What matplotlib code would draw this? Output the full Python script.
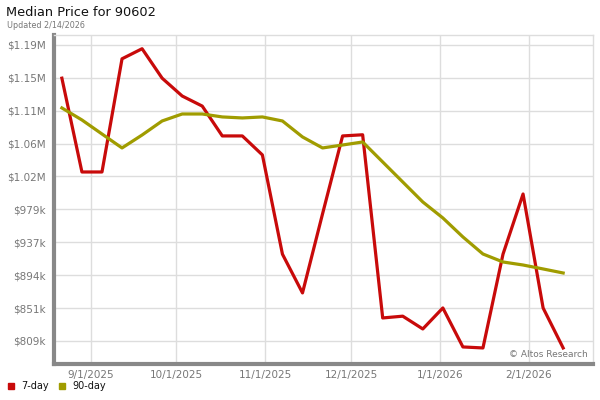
import matplotlib
matplotlib.use("Agg")
import matplotlib.pyplot as plt
import pandas as pd

# weekly dates, 8/22/2025 .. 2/13/2026
dates = pd.date_range("2025-08-22", periods=26, freq="7D")

price_7day = [1148000, 1027000, 1027000, 1173000, 1186000, 1148000, 1125000, 1112000,
              1073500, 1073500, 1049000, 921000, 871000, 973000, 1073500, 1075000,
              838700, 841000, 824500, 851600, 801300, 800000, 921000, 998600,
              851600, 800000]
price_90day = [1109600, 1094100, 1076000, 1058000, 1074700, 1092800, 1101800, 1101800,
               1098000, 1096700, 1098000, 1092800, 1072200, 1058000, 1061800, 1065700,
               1039900, 1014100, 988300, 967700, 943200, 921200, 910900, 907000,
               901900, 896700]

ytick_vals = [809000 + 42450 * i for i in range(10)]
ytick_labels = ["$809k", "$851k", "$894k", "$937k", "$979k",
                "$1.02M", "$1.06M", "$1.11M", "$1.15M", "$1.19M"]
xtick_dates = pd.to_datetime(["2025-09-01", "2025-10-01", "2025-11-01",
                              "2025-12-01", "2026-01-01", "2026-02-01"])
xtick_labels = ["9/1/2025", "10/1/2025", "11/1/2025", "12/1/2025", "1/1/2026", "2/1/2026"]

red = "#c80a0a"
olive = "#a09c00"

fig = plt.figure(figsize=(6, 4), dpi=100)
ax = fig.add_axes([54 / 600, 1 - 364 / 400, 539 / 600, 329 / 400])

ax.plot(dates, price_7day, color=red, lw=2.3)
ax.plot(dates, price_90day, color=olive, lw=2.3)

ax.set_xlim(pd.Timestamp("2025-08-19 06:00"), pd.Timestamp("2026-02-23 10:00"))
ax.set_ylim(779300, 1203700)

ax.set_yticks(ytick_vals)
ax.set_yticklabels(ytick_labels)
ax.set_xticks(xtick_dates)
ax.set_xticklabels(xtick_labels)

ax.grid(True, color="#dddddd", lw=1)
ax.set_axisbelow(True)
ax.tick_params(labelsize=7.5, length=0)
ax.tick_params(axis="x", pad=4)
ax.tick_params(axis="y", pad=6)
for lab in ax.get_xticklabels() + ax.get_yticklabels():
    lab.set_color("#777777")

for s in ["top", "right"]:
    ax.spines[s].set_color("#dddddd")
    ax.spines[s].set_linewidth(1)
for s in ["left", "bottom"]:
    ax.spines[s].set_color("#888888")
    ax.spines[s].set_linewidth(3)

ax.text(0.99, 0.015, "\u00a9 Altos Research", transform=ax.transAxes,
        ha="right", va="bottom", fontsize=6.5, color="#777777")

fig.text(6 / 600, 1 - 13 / 400, "Median Price for 90602", fontsize=9.3,
         va="center", ha="left", color="#111111")
fig.text(7 / 600, 1 - 25 / 400, "Updated 2/14/2026", fontsize=5.8,
         va="center", ha="left", color="#777777")

# legend
fig.patches.append(plt.Rectangle((8 / 600, 1 - 389 / 400), 6 / 600, 6 / 400,
                                 transform=fig.transFigure, color=red))
fig.text(21 / 600, 1 - 386 / 400, "7-day", fontsize=7, va="center", color="#111111")
fig.patches.append(plt.Rectangle((59 / 600, 1 - 389 / 400), 6 / 600, 6 / 400,
                                 transform=fig.transFigure, color=olive))
fig.text(72 / 600, 1 - 386 / 400, "90-day", fontsize=7, va="center", color="#111111")

fig.savefig("out.png", dpi=100)
